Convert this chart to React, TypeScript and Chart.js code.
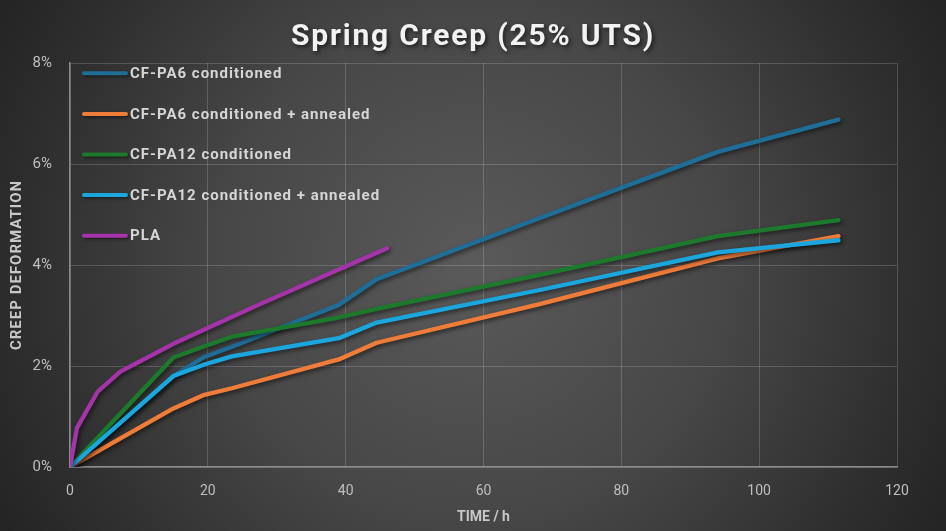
import { useEffect, useRef } from "react";
import { Chart, registerables, Plugin } from "chart.js";

Chart.register(...registerables);

const TITLE = "Spring Creep (25% UTS)";
const X_TITLE = "TIME / h";
const Y_TITLE = "CREEP DEFORMATION";

const seriesNames = [
  "CF-PA6 conditioned",
  "CF-PA6 conditioned + annealed",
  "CF-PA12 conditioned",
  "CF-PA12 conditioned + annealed",
  "PLA",
];
const seriesColors = ["#1f6e98", "#f07c3a", "#1d7a2d", "#1ba6de", "#a533a9"];

// time in hours
const pa6Time = [0, 15, 19.5, 23.5, 39, 44.5, 68, 94, 111.5];
const pa12Time = [0, 15, 19.5, 23.5, 39, 44.5, 68, 94, 111.5];
const plaTime = [0, 1, 4, 7.3, 15, 27, 46];

// creep deformation in %
const pa6Cond = [0, 1.8, 2.18, 2.38, 3.21, 3.72, 4.92, 6.24, 6.88];
const pa6Annealed = [0, 1.16, 1.43, 1.56, 2.13, 2.46, 3.22, 4.13, 4.57];
const pa12Cond = [0, 2.17, 2.39, 2.58, 2.96, 3.13, 3.8, 4.57, 4.89];
const pa12Annealed = [0, 1.8, 2.03, 2.19, 2.55, 2.86, 3.5, 4.25, 4.49];
const pla = [0, 0.77, 1.49, 1.89, 2.44, 3.19, 4.33];

const xTicks = { min: 0, max: 120, step: 20 };
const yTicks = { min: 0, max: 8, step: 2 };

const toPoints = (xs: number[], ys: number[]) =>
  ys.map((y, i) => ({ x: xs[i], y }));

const backgroundPlugin: Plugin = {
  id: "bg",
  beforeDraw(chart) {
    const { ctx, width, height } = chart;
    ctx.save();
    const g = ctx.createRadialGradient(width / 2, height / 2, 0, width / 2, height / 2, 560);
    g.addColorStop(0, "#5a5a5a");
    g.addColorStop(0.45, "#474747");
    g.addColorStop(0.8, "#2e2e2e");
    g.addColorStop(1, "#222222");
    ctx.fillStyle = g;
    ctx.fillRect(0, 0, width, height);
    ctx.restore();
  },
};

const shadowPlugin: Plugin = {
  id: "lineShadow",
  beforeDatasetsDraw(chart) {
    const ctx = chart.ctx;
    ctx.save();
    ctx.shadowColor = "rgba(0,0,0,0.55)";
    ctx.shadowBlur = 4;
    ctx.shadowOffsetX = 2;
    ctx.shadowOffsetY = 2;
  },
  afterDatasetsDraw(chart) {
    chart.ctx.restore();
  },
};

const titleLegendPlugin: Plugin = {
  id: "titleLegend",
  afterDraw(chart) {
    const ctx = chart.ctx as CanvasRenderingContext2D & { letterSpacing?: string };
    const area = chart.chartArea;

    // title
    ctx.save();
    ctx.font = "bold 30px Roboto";
    ctx.letterSpacing = "1.8px";
    ctx.textAlign = "center";
    ctx.textBaseline = "middle";
    ctx.shadowColor = "rgba(0,0,0,0.6)";
    ctx.shadowBlur = 4;
    ctx.shadowOffsetX = 2;
    ctx.shadowOffsetY = 2;
    ctx.fillStyle = "#f2f2f2";
    ctx.fillText(TITLE, 473, 37);
    ctx.restore();

    // y axis title
    ctx.save();
    ctx.font = "bold 15px Roboto";
    ctx.letterSpacing = "1px";
    ctx.fillStyle = "#c8c8c8";
    ctx.textAlign = "center";
    ctx.textBaseline = "middle";
    ctx.translate(17, (area.top + area.bottom) / 2);
    ctx.rotate(-Math.PI / 2);
    ctx.fillText(Y_TITLE, 0, 0);
    ctx.restore();

    // legend inside plot
    ctx.save();
    ctx.font = "bold 15px Roboto";
    ctx.letterSpacing = "1px";
    ctx.textBaseline = "middle";
    ctx.textAlign = "left";
    seriesNames.forEach((name, i) => {
      const y = 73.3 + i * 40.6;
      ctx.save();
      ctx.shadowColor = "rgba(0,0,0,0.5)";
      ctx.shadowBlur = 3;
      ctx.shadowOffsetX = 1.5;
      ctx.shadowOffsetY = 1.5;
      ctx.strokeStyle = seriesColors[i];
      ctx.lineWidth = 4;
      ctx.lineCap = "round";
      ctx.beginPath();
      ctx.moveTo(84, y);
      ctx.lineTo(126, y);
      ctx.stroke();
      ctx.restore();
      ctx.fillStyle = "#d6d6d6";
      ctx.fillText(name, 130, y + 1);
    });
    ctx.restore();
  },
};

const ChartComponent = () => {
  const chartRef = useRef<HTMLCanvasElement | null>(null);
  const chartInstance = useRef<Chart | null>(null);

  useEffect(() => {
    document.body.style.margin = "0";
    if (!chartRef.current) return;
    const ctx = chartRef.current.getContext("2d");
    if (!ctx) return;

    const data = [
      toPoints(pa6Time, pa6Cond),
      toPoints(pa6Time, pa6Annealed),
      toPoints(pa12Time, pa12Cond),
      toPoints(pa12Time, pa12Annealed),
      toPoints(plaTime, pla),
    ];

    chartInstance.current = new Chart(ctx, {
      type: "line",
      data: {
        datasets: data.map((d, i) => ({
          label: seriesNames[i],
          data: d,
          borderColor: seriesColors[i],
          backgroundColor: seriesColors[i],
          borderWidth: 4.3,
          borderJoinStyle: "round" as const,
          borderCapStyle: "round" as const,
          pointRadius: 0,
          tension: 0,
          fill: false,
          // first series at the bottom, PLA on top
          order: seriesNames.length - i,
        })),
      },
      plugins: [backgroundPlugin, shadowPlugin, titleLegendPlugin],
      options: {
        responsive: true,
        maintainAspectRatio: false,
        animation: false,
        layout: { padding: { top: 63, right: 49, left: 0, bottom: 0 } },
        plugins: {
          legend: { display: false },
          title: { display: false },
          tooltip: { enabled: false },
        },
        scales: {
          x: {
            type: "linear",
            min: xTicks.min,
            max: xTicks.max,
            afterFit: (s) => {
              s.height = 64;
            },
            ticks: {
              stepSize: xTicks.step,
              color: "#bfbfbf",
              padding: 16,
              font: { family: "Roboto", size: 14 },
            },
            grid: { color: "rgba(255,255,255,0.17)", drawTicks: false },
            border: { color: "#8c8c8c", width: 1.5 },
            title: {
              display: true,
              text: X_TITLE,
              color: "#c8c8c8",
              font: { family: "Roboto", size: 14, weight: "bold" },
              padding: { bottom: 5 },
            },
          },
          y: {
            min: yTicks.min,
            max: yTicks.max,
            afterFit: (s) => {
              s.width = 70;
            },
            ticks: {
              stepSize: yTicks.step,
              color: "#bfbfbf",
              padding: 18,
              font: { family: "Roboto", size: 15 },
              callback: (v) => `${v}%`,
            },
            grid: { color: "rgba(255,255,255,0.17)", drawTicks: false },
            border: { color: "#8c8c8c", width: 1.5 },
          },
        },
      },
    });

    return () => {
      if (chartInstance.current) {
        chartInstance.current.destroy();
        chartInstance.current = null;
      }
    };
  }, []);

  return (
    <div style={{ position: "relative", width: 946, height: 531 }}>
      <canvas ref={chartRef} />
    </div>
  );
};

export default function App() {
  return <ChartComponent />;
}
